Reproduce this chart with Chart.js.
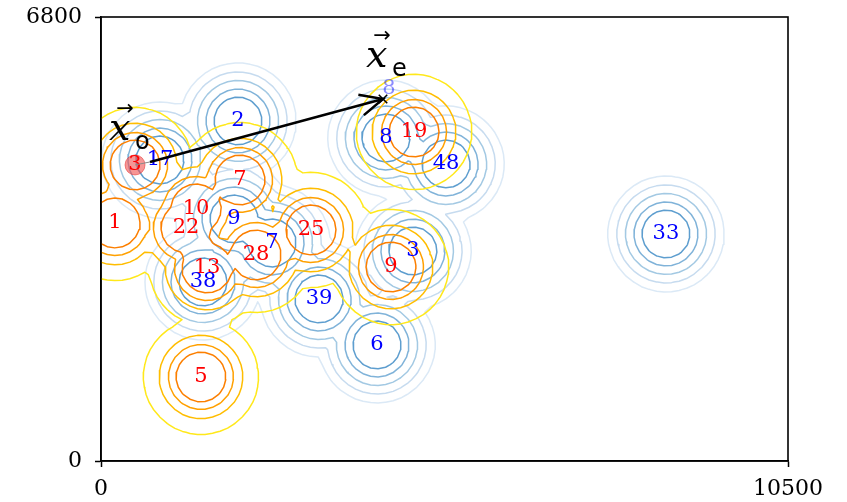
<!DOCTYPE html>
<html>
<head>
<meta charset="utf-8">
<script src="https://cdn.jsdelivr.net/npm/chart.js@4/dist/chart.umd.min.js"></script>
<style>
  html, body { margin: 0; padding: 0; background: #fff; }
  canvas { display: block; }
</style>
</head>
<body>
<canvas id="contourChart" width="847" height="502"></canvas>
<script>
// red group: ids and centres
var redIds = ["3", "1", "7", "10", "22", "13", "28", "25", "9", "19", "5"];
var redX = [520, 214, 2124, 1452, 1299, 1620, 2369, 3210, 4432, 4784, 1528];
var redY = [4534, 3645, 4304, 3860, 3569, 2956, 3155, 3538, 2971, 5039, 1287];

// blue group: ids and centres
var blueIds = ["17", "2", "9", "7", "38", "39", "3", "6", "8", "48", "33"];
var blueX = [902, 2094, 2033, 2614, 1559, 3332, 4768, 4218, 4356, 5273, 8635];
var blueY = [4610, 5208, 3707, 3339, 2742, 2481, 3216, 1777, 4947, 4549, 3477];

// moved copy of blue 8
var ghostIds = ["8"];
var ghostX = [4402];
var ghostY = [5698];

// start / end of the displacement arrow
var xo = [520, 4534];
var arrowFrom = [749, 4580];
var xe = [4310, 5544];

// contour levels of each group's density
var redLevels = [0.16, 0.38, 0.556, 0.707];
var blueLevels = [0.155, 0.264, 0.403, 0.567, 0.726];

// axis ticks
var xTicks = [0, 10500];
var yTicks = [0, 6800];

var redColors = ["#ffe81a", "#ffbd00", "#ffa000", "#fc7f00"];
var blueColors = ["#dbe9f6", "#c6dbef", "#a3c9e3", "#80b3d9", "#5e9ecf"];

var BW = 459; // kernel width
var X0 = -1400, Y0 = -1400, STEP = 115;
var NX = 117, NY = 85;

function buildField(px, py) {
  var f = [];
  for (var j = 0; j < NY; j++) {
    var row = [];
    var y = Y0 + j * STEP;
    for (var i = 0; i < NX; i++) {
      var x = X0 + i * STEP, best = 0;
      for (var k = 0; k < px.length; k++) {
        var dx = x - px[k], dy = y - py[k];
        var v = Math.exp(-(dx * dx + dy * dy) / (2 * BW * BW));
        if (v > best) best = v;
      }
      row.push(best);
    }
    f.push(row);
  }
  return f;
}

function edgePoint(f, lv, e, i, j) {
  var a, b, t;
  if (e === 0) {
    a = f[j][i]; b = f[j][i + 1]; t = (lv - a) / (b - a);
    return { k: "h" + i + "_" + j, x: X0 + (i + t) * STEP, y: Y0 + j * STEP };
  }
  if (e === 2) {
    a = f[j + 1][i]; b = f[j + 1][i + 1]; t = (lv - a) / (b - a);
    return { k: "h" + i + "_" + (j + 1), x: X0 + (i + t) * STEP, y: Y0 + (j + 1) * STEP };
  }
  if (e === 3) {
    a = f[j][i]; b = f[j + 1][i]; t = (lv - a) / (b - a);
    return { k: "v" + i + "_" + j, x: X0 + i * STEP, y: Y0 + (j + t) * STEP };
  }
  a = f[j][i + 1]; b = f[j + 1][i + 1]; t = (lv - a) / (b - a);
  return { k: "v" + (i + 1) + "_" + j, x: X0 + (i + 1) * STEP, y: Y0 + (j + t) * STEP };
}

// edges: 0 bottom, 1 right, 2 top, 3 left
var CASES = {
  1: [[3, 0]], 2: [[0, 1]], 3: [[3, 1]], 4: [[1, 2]], 6: [[0, 2]], 7: [[3, 2]],
  8: [[2, 3]], 9: [[0, 2]], 11: [[1, 2]], 12: [[3, 1]], 13: [[0, 1]], 14: [[3, 0]]
};

function isoLines(f, lv) {
  var segs = [];
  for (var j = 0; j < NY - 1; j++) {
    for (var i = 0; i < NX - 1; i++) {
      var a = f[j][i], b = f[j][i + 1], c = f[j + 1][i + 1], d = f[j + 1][i];
      var idx = (a >= lv ? 1 : 0) | (b >= lv ? 2 : 0) | (c >= lv ? 4 : 0) | (d >= lv ? 8 : 0);
      if (idx === 0 || idx === 15) continue;
      var pairs;
      if (idx === 5 || idx === 10) {
        var high = (a + b + c + d) / 4 >= lv;
        if (idx === 5) pairs = high ? [[0, 1], [2, 3]] : [[3, 0], [1, 2]];
        else pairs = high ? [[3, 0], [1, 2]] : [[0, 1], [2, 3]];
      } else {
        pairs = CASES[idx];
      }
      pairs.forEach(function (p) {
        segs.push([edgePoint(f, lv, p[0], i, j), edgePoint(f, lv, p[1], i, j)]);
      });
    }
  }
  // join the segments into polylines
  var adj = {};
  segs.forEach(function (s, n) {
    (adj[s[0].k] = adj[s[0].k] || []).push(n);
    (adj[s[1].k] = adj[s[1].k] || []).push(n);
  });
  var used = [];
  function grow(line) {
    for (;;) {
      var last = line[line.length - 1];
      var nb = (adj[last.k] || []).filter(function (n) { return !used[n]; });
      if (!nb.length) break;
      used[nb[0]] = true;
      var s = segs[nb[0]];
      line.push(s[0].k === last.k ? s[1] : s[0]);
    }
  }
  var data = [];
  segs.forEach(function (s, n) {
    if (used[n]) return;
    used[n] = true;
    var line = [s[0], s[1]];
    grow(line);
    line.reverse();
    grow(line);
    line.forEach(function (p) { data.push({ x: p.x, y: p.y }); });
    data.push({ x: NaN, y: NaN }); // gap between polylines
  });
  return data;
}

function contourSets(px, py, levels, colors) {
  var f = buildField(px, py);
  return levels.map(function (lv, n) {
    return {
      data: isoLines(f, lv),
      showLine: true,
      borderColor: colors[n],
      borderWidth: 1.5,
      pointRadius: 0,
      pointHoverRadius: 0,
      spanGaps: false,
      clip: 0,
      borderJoinStyle: "round",
      borderCapStyle: "round"
    };
  });
}

var datasets = [
  {
    data: [{ x: xe[0], y: xe[1] }],
    pointStyle: "crossRot",
    pointRadius: 6,
    borderColor: "#000",
    borderWidth: 1.5,
    clip: false
  },
  {
    data: [{ x: xo[0], y: xo[1] }],
    pointRadius: 10,
    backgroundColor: "rgba(240, 80, 80, 0.6)",
    borderColor: "rgba(230, 50, 50, 0.55)",
    borderWidth: 1,
    clip: false
  }
].concat(contourSets(redX, redY, redLevels, redColors))
 .concat(contourSets(blueX, blueY, blueLevels, blueColors));

var framePlugin = {
  id: "frame",
  afterDraw: function (chart) {
    var a = chart.chartArea, ctx = chart.ctx;
    ctx.save();
    ctx.strokeStyle = "#000";
    ctx.lineWidth = 1.6;
    ctx.strokeRect(a.left, a.top, a.right - a.left, a.bottom - a.top);
    ctx.restore();
  }
};

var labelPlugin = {
  id: "pointLabels",
  afterDatasetsDraw: function (chart) {
    var ctx = chart.ctx, sx = chart.scales.x, sy = chart.scales.y;
    function put(ids, xs, ys, color) {
      ctx.fillStyle = color;
      ids.forEach(function (t, n) {
        ctx.fillText(t, sx.getPixelForValue(xs[n]), sy.getPixelForValue(ys[n]));
      });
    }
    ctx.save();
    ctx.font = "21px 'DejaVu Serif'";
    ctx.textAlign = "center";
    ctx.textBaseline = "middle";
    put(redIds, redX, redY, "#ff0000");
    put(blueIds, blueX, blueY, "#0000ff");
    put(ghostIds, ghostX, ghostY, "rgba(0, 0, 255, 0.45)");

    // arrow from the origin to the end point
    var p0x = sx.getPixelForValue(xo[0]), p0y = sy.getPixelForValue(xo[1]);
    var p1x = sx.getPixelForValue(arrowFrom[0]), p1y = sy.getPixelForValue(arrowFrom[1]);
    var p2x = sx.getPixelForValue(xe[0]), p2y = sy.getPixelForValue(xe[1]);
    ctx.strokeStyle = "#888";
    ctx.lineWidth = 1;
    ctx.beginPath();
    ctx.moveTo(p0x, p0y);
    ctx.lineTo(p1x, p1y);
    ctx.stroke();

    ctx.strokeStyle = "#000";
    ctx.lineWidth = 2.5;
    ctx.beginPath();
    ctx.moveTo(p1x, p1y);
    ctx.lineTo(p2x, p2y);
    var ang = Math.atan2(p2y - p1y, p2x - p1x);
    var head = 25, spread = 25 * Math.PI / 180;
    ctx.moveTo(p2x - head * Math.cos(ang - spread), p2y - head * Math.sin(ang - spread));
    ctx.lineTo(p2x, p2y);
    ctx.lineTo(p2x - head * Math.cos(ang + spread), p2y - head * Math.sin(ang + spread));
    ctx.stroke();

    // vector names
    var names = [
      { sub: "o", x: 153, y: 4917 },
      { sub: "e", x: 4081, y: 6035 }
    ];
    ctx.fillStyle = "#000";
    names.forEach(function (m) {
      var bx = sx.getPixelForValue(m.x), by = sy.getPixelForValue(m.y);
      ctx.textAlign = "left";
      ctx.textBaseline = "alphabetic";
      ctx.font = "italic 38px 'DejaVu Serif'";
      ctx.fillText("x", bx - 2, by);
      ctx.font = "24px 'DejaVu Sans'";
      ctx.fillText(m.sub, bx + 24, by + 9);
      ctx.font = "21px 'DejaVu Sans'";
      ctx.textAlign = "center";
      ctx.textBaseline = "middle";
      ctx.fillText("\u2192", bx + 14, by - 30);
    });
    ctx.restore();
  }
};

var tickFont = { family: "'DejaVu Serif'", size: 22 };

new Chart(document.getElementById("contourChart").getContext("2d"), {
  type: "scatter",
  data: { datasets: datasets },
  options: {
    responsive: false,
    animation: false,
    events: [],
    layout: { padding: { left: 0, top: 17, right: 59, bottom: 0 } },
    plugins: { legend: { display: false }, tooltip: { enabled: false } },
    scales: {
      x: {
        type: "linear",
        min: xTicks[0],
        max: xTicks[xTicks.length - 1],
        afterBuildTicks: function (s) { s.ticks = xTicks.map(function (v) { return { value: v }; }); },
        afterFit: function (s) { s.height = 41; s.paddingLeft = 0; s.paddingRight = 0; },
        grid: { drawOnChartArea: false, drawTicks: true, tickLength: 6, tickWidth: 1.5, tickColor: "#000" },
        border: { display: true, color: "#000", width: 1.6 },
        ticks: { color: "#000", font: tickFont, padding: 9, maxRotation: 0, autoSkip: false,
                 callback: function (v) { return String(v); } }
      },
      y: {
        type: "linear",
        min: yTicks[0],
        max: yTicks[yTicks.length - 1],
        afterBuildTicks: function (s) { s.ticks = yTicks.map(function (v) { return { value: v }; }); },
        afterFit: function (s) { s.width = 101; s.paddingTop = 0; s.paddingBottom = 0; },
        grid: { drawOnChartArea: false, drawTicks: true, tickLength: 6, tickWidth: 1.5, tickColor: "#000" },
        border: { display: true, color: "#000", width: 1.6 },
        ticks: { color: "#000", font: tickFont, padding: 13, autoSkip: false,
                 callback: function (v) { return String(v); } }
      }
    }
  },
  plugins: [framePlugin, labelPlugin]
});
</script>
</body>
</html>
